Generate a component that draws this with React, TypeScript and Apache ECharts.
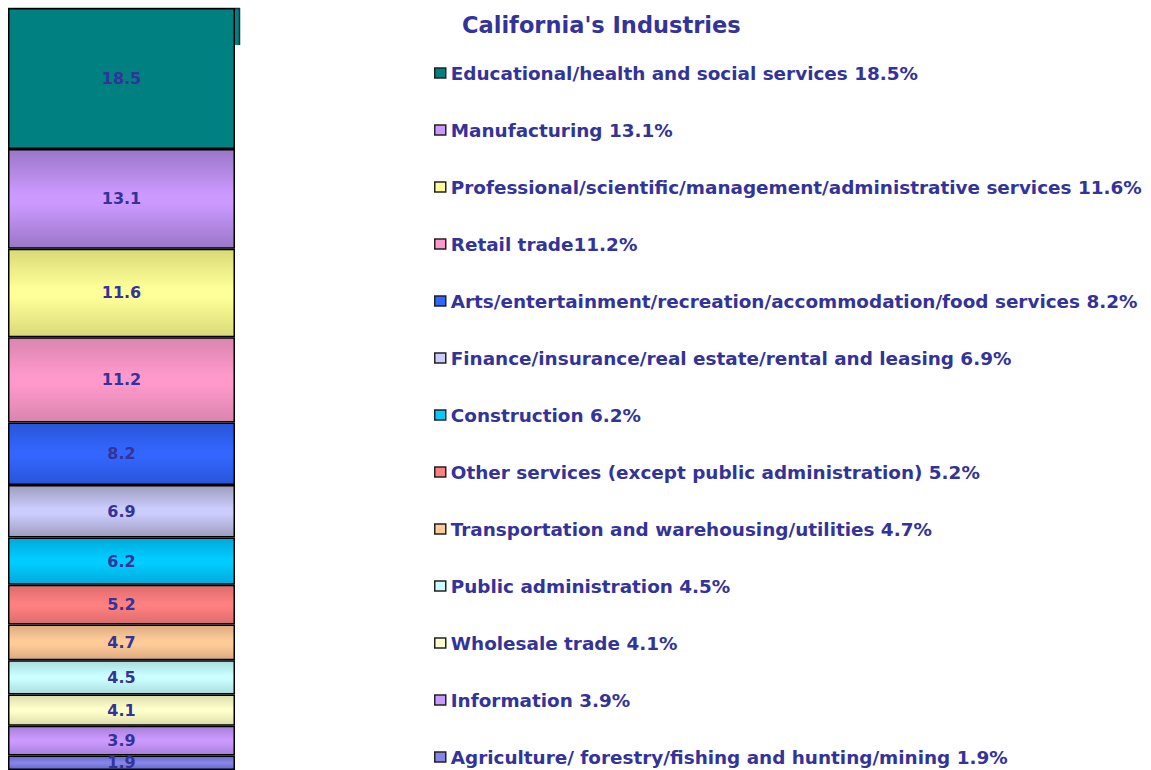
import React, { useEffect, useRef } from "react";
import * as echarts from "echarts";

const industries = [
  "Educational/health and social services",
  "Manufacturing",
  "Professional/scientific/management/administrative services",
  "Retail trade",
  "Arts/entertainment/recreation/accommodation/food services",
  "Finance/insurance/real estate/rental and leasing",
  "Construction",
  "Other services (except public administration)",
  "Transportation and warehousing/utilities",
  "Public administration",
  "Wholesale trade",
  "Information",
  "Agriculture/ forestry/fishing and hunting/mining",
];

const shares = [18.5, 13.1, 11.6, 11.2, 8.2, 6.9, 6.2, 5.2, 4.7, 4.5, 4.1, 3.9, 1.9];

const legendLabels = [
  "Educational/health and social services 18.5%",
  "Manufacturing 13.1%",
  "Professional/scientific/management/administrative services 11.6%",
  "Retail trade11.2%",
  "Arts/entertainment/recreation/accommodation/food services 8.2%",
  "Finance/insurance/real estate/rental and leasing 6.9%",
  "Construction 6.2%",
  "Other services (except public administration) 5.2%",
  "Transportation and warehousing/utilities 4.7%",
  "Public administration 4.5%",
  "Wholesale trade 4.1%",
  "Information 3.9%",
  "Agriculture/ forestry/fishing and hunting/mining 1.9%",
];

const midColors = [
  "#008080", "#CC99FF", "#FFFF99", "#FF99CC", "#3366FF", "#CCCCFF", "#00CCFF",
  "#FF8080", "#FFCC99", "#CCFFFF", "#FFFFCC", "#CC99FF", "#8585E8",
];
const edgeColors = [
  "#008080", "#9977C8", "#D9D977", "#D985AE", "#2855D8", "#9D9DBF", "#00AADD",
  "#DD6B6B", "#DDAA80", "#A8DDDD", "#DDDDAA", "#A67FD9", "#6666CC",
];

const category = ["California"];

const FONT = "DejaVu Sans, Verdana, sans-serif";

export default function App() {
  const ref = useRef<HTMLDivElement>(null);
  useEffect(() => {
    if (!ref.current) return;
    const chart = echarts.init(ref.current, undefined, { renderer: "svg" });
    const order = industries.map((_, i) => i).reverse();
    const series = order.map((i) => ({
      type: "bar",
      name: industries[i],
      stack: "total",
      barWidth: "100%",
      data: [shares[i]],
      itemStyle: {
        borderColor: "#000",
        borderWidth: 1.5,
        color: new echarts.graphic.LinearGradient(0, 0, 0, 1, [
          { offset: 0, color: edgeColors[i] },
          { offset: 0.45, color: midColors[i] },
          { offset: 0.55, color: midColors[i] },
          { offset: 1, color: edgeColors[i] },
        ]),
      },
      label: {
        show: true,
        position: "inside",
        formatter: (p: any) => String(p.value),
        color: "#333399",
        fontWeight: "bold",
        fontSize: 16,
        fontFamily: FONT,
      },
    }));
    chart.setOption({
      animation: false,
      title: {
        text: "California's Industries",
        left: 462,
        top: 13,
        padding: 0,
        textStyle: {
          color: "#333399",
          fontSize: 22.5,
          fontWeight: "bold",
          fontFamily: FONT,
        },
      },
      legend: {
        orient: "vertical",
        left: 434,
        top: 63,
        height: 705,
        padding: 0,
        itemGap: 37,
        itemWidth: 11,
        itemHeight: 10,
        icon: "rect",
        selectedMode: false,
        data: industries.map((n, i) => ({
          name: n,
          itemStyle: { color: midColors[i], borderColor: "#222", borderWidth: 1.5 },
        })),
        formatter: (name: string) => legendLabels[industries.indexOf(name)],
        textStyle: {
          color: "#333399",
          fontSize: 18.4,
          lineHeight: 20,
          fontWeight: "bold",
          fontFamily: FONT,
        },
      },
      grid: { left: 8, top: 8, width: 227, height: 762 },
      xAxis: { type: "category", data: category, show: false },
      yAxis: { type: "value", min: 0, max: 100, show: false },
      graphic: [
        {
          type: "rect",
          shape: { x: 235, y: 8, width: 4, height: 37 },
          style: { fill: "#008080", stroke: "none" },
        },
        {
          type: "line",
          shape: { x1: 239.5, y1: 8, x2: 239.5, y2: 45 },
          style: { stroke: "#1a2e3a", lineWidth: 1.5 },
        },
        {
          type: "line",
          shape: { x1: 8, y1: 8.5, x2: 240, y2: 8.5 },
          style: { stroke: "#1a2e3a", lineWidth: 1.5 },
        },
      ],
      series,
    });
    return () => chart.dispose();
  }, []);
  return (
    <div
      ref={ref}
      style={{ position: "fixed", left: 0, top: 0, width: 1151, height: 770, background: "#fff" }}
    />
  );
}
